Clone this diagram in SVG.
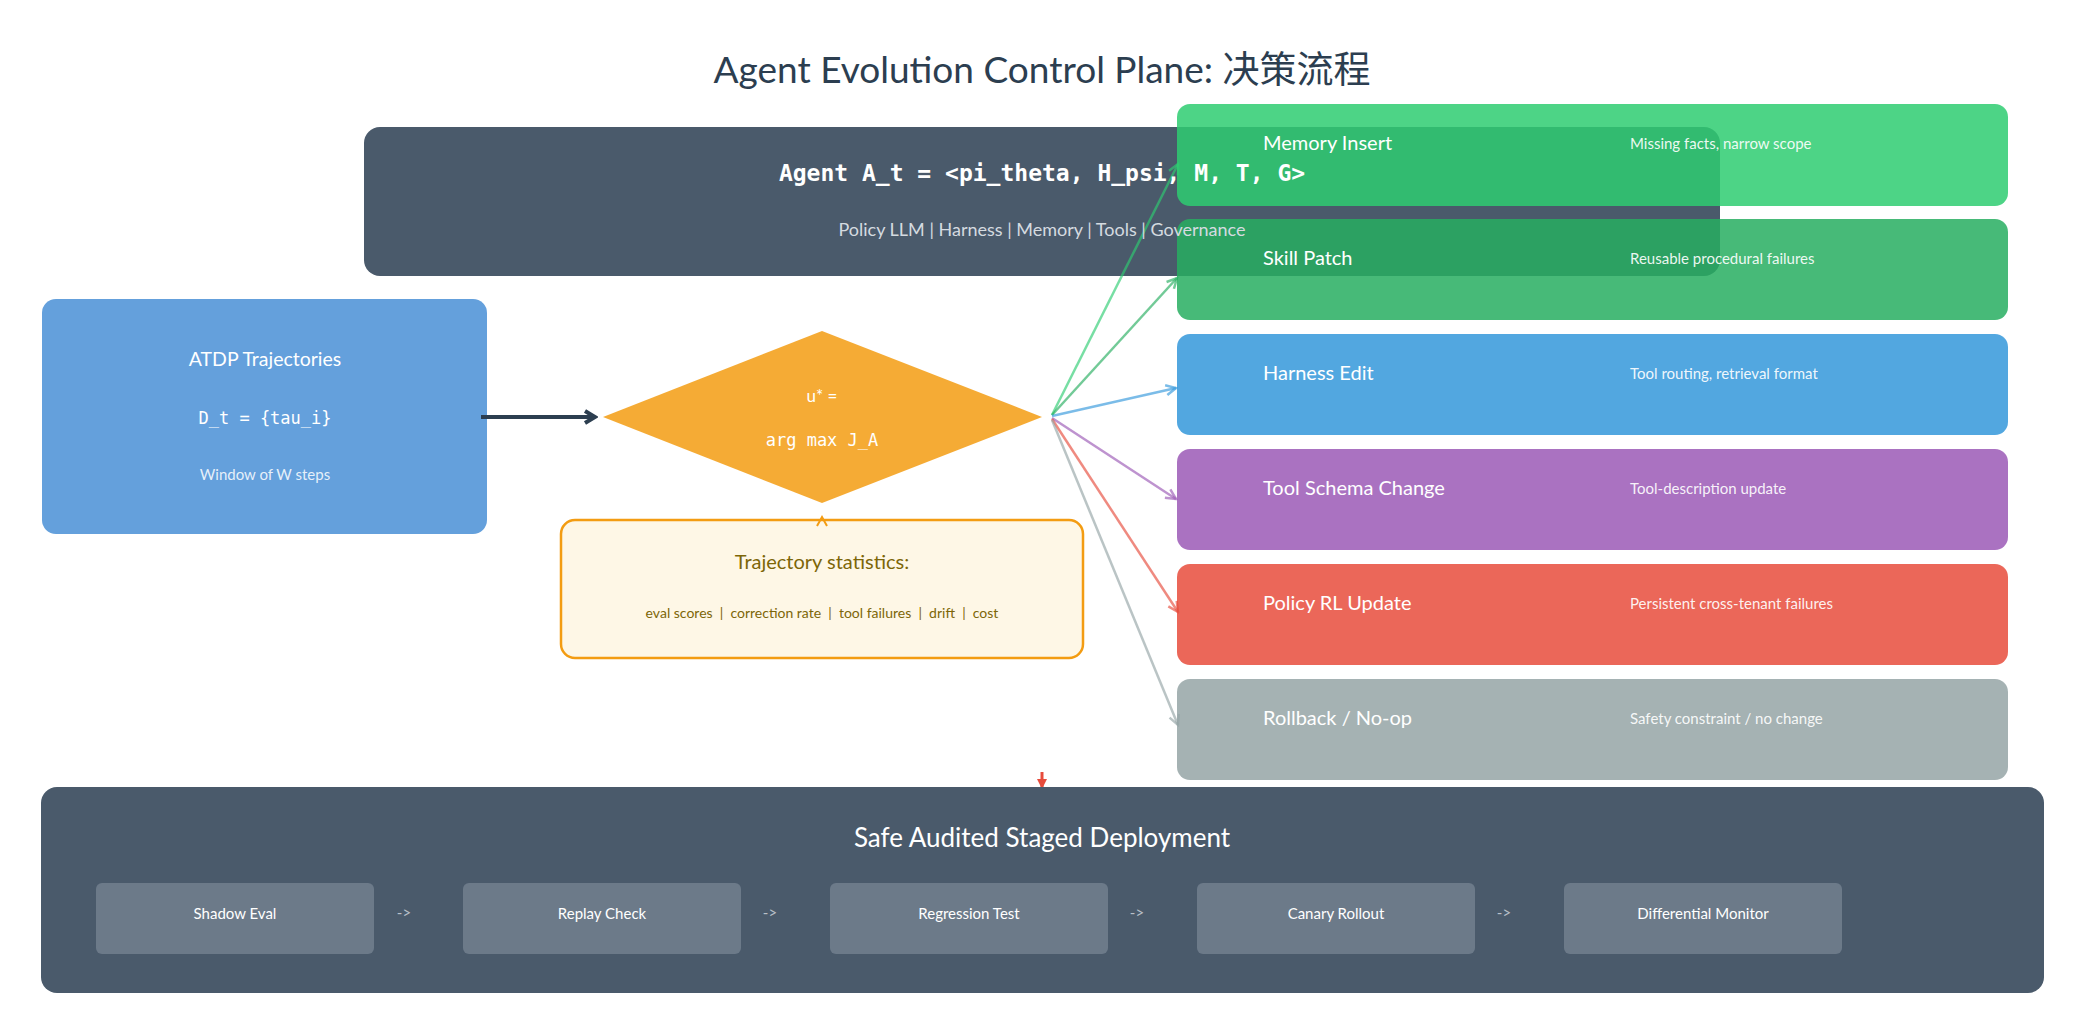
<svg xmlns="http://www.w3.org/2000/svg" width="2085" height="1035" viewBox="0 0 2085 1035">
<style>
.sans{font-family:"Lato","Noto Sans","Liberation Sans",sans-serif}
.mono{font-family:"DejaVu Sans Mono","Liberation Mono",monospace}
.title{font-size:37px;fill:#2c3e50}
.opt{opacity:0.85}
.otitle{font-size:20px;fill:#ffffff}
.odesc{font-size:15px;fill:#ffffff;fill-opacity:0.92}
.stage{fill:#6c7a89}
.stagetxt{font-size:15px;fill:#ffffff}
.sep{font-size:15px;fill:#b8c0c8}
.fan{fill:none;stroke-width:2.5;stroke-opacity:0.65}
.pre{white-space:pre}
</style>
<defs>
<marker id="mk-dark" markerUnits="userSpaceOnUse" viewBox="0 0 16 16" markerWidth="16" markerHeight="16" refX="13" refY="8" orient="auto"><path d="M3,2 L13,8 L3,14" fill="none" stroke="#2c3e50" stroke-width="4"/></marker>
<marker id="mk-g1" markerUnits="userSpaceOnUse" viewBox="0 0 14 14" markerWidth="14" markerHeight="14" refX="12" refY="7" orient="auto"><path d="M2,2 L12,7 L2,12" fill="none" stroke="#2ecc71" stroke-opacity="0.65" stroke-width="2.5"/></marker>
<marker id="mk-g2" markerUnits="userSpaceOnUse" viewBox="0 0 14 14" markerWidth="14" markerHeight="14" refX="12" refY="7" orient="auto"><path d="M2,2 L12,7 L2,12" fill="none" stroke="#27ae60" stroke-opacity="0.65" stroke-width="2.5"/></marker>
<marker id="mk-b" markerUnits="userSpaceOnUse" viewBox="0 0 14 14" markerWidth="14" markerHeight="14" refX="12" refY="7" orient="auto"><path d="M2,2 L12,7 L2,12" fill="none" stroke="#3498db" stroke-opacity="0.65" stroke-width="2.5"/></marker>
<marker id="mk-p" markerUnits="userSpaceOnUse" viewBox="0 0 14 14" markerWidth="14" markerHeight="14" refX="12" refY="7" orient="auto"><path d="M2,2 L12,7 L2,12" fill="none" stroke="#9b59b6" stroke-opacity="0.65" stroke-width="2.5"/></marker>
<marker id="mk-r" markerUnits="userSpaceOnUse" viewBox="0 0 14 14" markerWidth="14" markerHeight="14" refX="12" refY="7" orient="auto"><path d="M2,2 L12,7 L2,12" fill="none" stroke="#e74c3c" stroke-opacity="0.65" stroke-width="2.5"/></marker>
<marker id="mk-gr" markerUnits="userSpaceOnUse" viewBox="0 0 14 14" markerWidth="14" markerHeight="14" refX="12" refY="7" orient="auto"><path d="M2,2 L12,7 L2,12" fill="none" stroke="#95a5a6" stroke-opacity="0.65" stroke-width="2.5"/></marker>
<marker id="mk-red" markerUnits="userSpaceOnUse" viewBox="0 0 12 12" markerWidth="12" markerHeight="12" refX="10" refY="6" orient="auto"><path d="M1,1 L11,6 L1,11 Z" fill="#e74c3c"/></marker>
</defs>
<rect width="2085" height="1035" fill="#ffffff"/>

<text class="sans title" x="1042" y="83" text-anchor="middle">Agent Evolution Control Plane: <tspan font-family="'Noto Sans CJK SC',sans-serif">决策流程</tspan></text>

<g id="agent">
<rect x="364" y="127" width="1356" height="149" rx="16" fill="#4a5a6b"/>
</g>

<g id="atdp">
<rect x="42" y="299" width="445" height="235" rx="14" fill="#64a0dc"/>
<text class="sans" x="265" y="366" text-anchor="middle" font-size="19.5" fill="#ffffff">ATDP Trajectories</text>
<text class="mono" x="265" y="424" text-anchor="middle" font-size="17" fill="#ffffff">D_t = {tau_i}</text>
<text class="sans" x="265" y="480" text-anchor="middle" font-size="15" fill="#ffffff" fill-opacity="0.85">Window of W steps</text>
</g>

<g id="decision">
<polygon points="603,417 822,331 1042,417 822,503" fill="#f39c12" fill-opacity="0.85"/>
<text class="sans" x="822" y="402" text-anchor="middle" font-size="17" fill="#ffffff">u* =</text>
<text class="mono" x="822" y="446" text-anchor="middle" font-size="17" fill="#ffffff">arg max J_A</text>
</g>

<g id="stats">
<rect x="561" y="520" width="522" height="138" rx="14" fill="#fef7e6" stroke="#f39c12" stroke-width="2.5"/>
<text class="sans" x="822" y="569" text-anchor="middle" font-size="20" fill="#7d6608">Trajectory statistics:</text>
<text class="sans pre" x="822" y="618" text-anchor="middle" font-size="14" fill="#7d6608">eval scores  |  correction rate  |  tool failures  |  drift  |  cost</text>
</g>

<g id="connectors">
<line x1="481" y1="417" x2="595" y2="417" stroke="#2c3e50" stroke-width="4" marker-end="url(#mk-dark)"/>
<polyline points="817,526 822,517 827,526" fill="none" stroke="#f39c12" stroke-width="2"/>
<line class="fan" x1="1052" y1="415" x2="1178" y2="164" stroke="#2ecc71" marker-end="url(#mk-g1)"/>
<line class="fan" x1="1052" y1="415" x2="1177" y2="278" stroke="#27ae60" marker-end="url(#mk-g2)"/>
<line class="fan" x1="1052" y1="416" x2="1176" y2="388" stroke="#3498db" marker-end="url(#mk-b)"/>
<line class="fan" x1="1052" y1="418" x2="1176" y2="499" stroke="#9b59b6" marker-end="url(#mk-p)"/>
<line class="fan" x1="1052" y1="419" x2="1178" y2="612" stroke="#e74c3c" marker-end="url(#mk-r)"/>
<line class="fan" x1="1052" y1="420" x2="1178" y2="725" stroke="#95a5a6" marker-end="url(#mk-gr)"/>
<line x1="1042" y1="772" x2="1042" y2="788" stroke="#e74c3c" stroke-width="3" marker-end="url(#mk-red)"/>
</g>

<g id="opt-memory">
<rect class="opt" x="1177" y="104" width="831" height="102" rx="13" fill="#2ecc71"/>
<text class="sans otitle" x="1263" y="150">Memory Insert</text>
<text class="sans odesc" x="1630" y="149">Missing facts, narrow scope</text>
</g>
<g id="opt-skill">
<rect class="opt" x="1177" y="219" width="831" height="101" rx="13" fill="#27ae60"/>
<text class="sans otitle" x="1263" y="265">Skill Patch</text>
<text class="sans odesc" x="1630" y="264">Reusable procedural failures</text>
</g>
<g id="opt-harness">
<rect class="opt" x="1177" y="334" width="831" height="101" rx="13" fill="#3498db"/>
<text class="sans otitle" x="1263" y="380">Harness Edit</text>
<text class="sans odesc" x="1630" y="379">Tool routing, retrieval format</text>
</g>
<g id="opt-tool">
<rect class="opt" x="1177" y="449" width="831" height="101" rx="13" fill="#9b59b6"/>
<text class="sans otitle" x="1263" y="495">Tool Schema Change</text>
<text class="sans odesc" x="1630" y="494">Tool-description update</text>
</g>
<g id="opt-policy">
<rect class="opt" x="1177" y="564" width="831" height="101" rx="13" fill="#e74c3c"/>
<text class="sans otitle" x="1263" y="610">Policy RL Update</text>
<text class="sans odesc" x="1630" y="609">Persistent cross-tenant failures</text>
</g>
<g id="opt-rollback">
<rect class="opt" x="1177" y="679" width="831" height="101" rx="13" fill="#95a5a6"/>
<text class="sans otitle" x="1263" y="725">Rollback / No-op</text>
<text class="sans odesc" x="1630" y="724">Safety constraint / no change</text>
</g>

<g id="agent-label">
<text class="mono" x="1042" y="181" text-anchor="middle" font-size="23" font-weight="bold" fill="#ffffff">Agent A_t = &lt;pi_theta, H_psi, M, T, G&gt;</text>
<text class="sans" x="1042" y="236" text-anchor="middle" font-size="18" fill="#d5dbe0">Policy LLM | Harness | Memory | Tools | Governance</text>
</g>

<g id="deployment">
<rect x="41" y="787" width="2003" height="206" rx="16" fill="#4a5a6b"/>
<text class="sans" x="1042" y="847" text-anchor="middle" font-size="26" fill="#ffffff">Safe Audited Staged Deployment</text>
<g id="stage-shadow"><rect class="stage" x="96" y="883" width="278" height="71" rx="6"/><text class="sans stagetxt" x="235" y="919" text-anchor="middle">Shadow Eval</text></g>
<text class="sans sep" x="404" y="918" text-anchor="middle">-&gt;</text>
<g id="stage-replay"><rect class="stage" x="463" y="883" width="278" height="71" rx="6"/><text class="sans stagetxt" x="602" y="919" text-anchor="middle">Replay Check</text></g>
<text class="sans sep" x="770" y="918" text-anchor="middle">-&gt;</text>
<g id="stage-regression"><rect class="stage" x="830" y="883" width="278" height="71" rx="6"/><text class="sans stagetxt" x="969" y="919" text-anchor="middle">Regression Test</text></g>
<text class="sans sep" x="1137" y="918" text-anchor="middle">-&gt;</text>
<g id="stage-canary"><rect class="stage" x="1197" y="883" width="278" height="71" rx="6"/><text class="sans stagetxt" x="1336" y="919" text-anchor="middle">Canary Rollout</text></g>
<text class="sans sep" x="1504" y="918" text-anchor="middle">-&gt;</text>
<g id="stage-diff"><rect class="stage" x="1564" y="883" width="278" height="71" rx="6"/><text class="sans stagetxt" x="1703" y="919" text-anchor="middle">Differential Monitor</text></g>
</g>
</svg>
